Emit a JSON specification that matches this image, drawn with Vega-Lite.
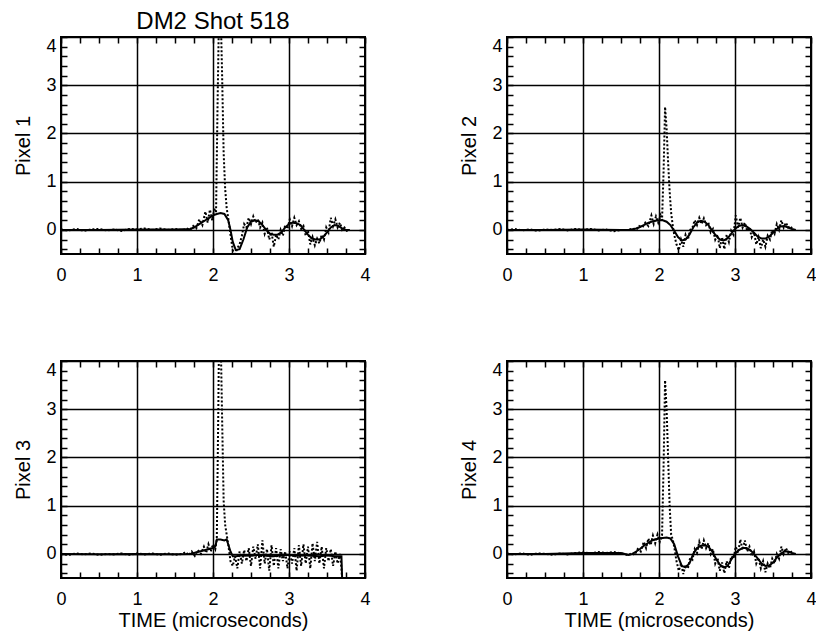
{
  "$schema": "https://vega.github.io/schema/vega-lite/v6.json",
  "padding": {"left": 12, "top": 9, "right": 5, "bottom": 5},
  "background": "white",
  "columns": 2,
  "spacing": {"row": 107, "column": 142},
  "bounds": "flush",
  "config": {
    "font": "Liberation Sans",
    "view": {"stroke": "black", "strokeWidth": 2},
    "axis": {
      "domain": false,
      "tickColor": "black",
      "tickSize": -6,
      "tickWidth": 1.5,
      "gridColor": "black",
      "gridWidth": 1.5,
      "labelFont": "Liberation Sans",
      "labelFontSize": 18,
      "labelColor": "black",
      "titleFont": "Liberation Sans",
      "titleFontSize": 20,
      "titleFontWeight": "normal",
      "titleColor": "black"
    },
    "axisLeft": {"labelPadding": 11, "titlePadding": 12, "labelFlush": true},
    "axisBottom": {"labelPadding": 18, "titlePadding": 2, "labelFlush": false},
    "axisTop": {"labels": false, "grid": false, "labelFlush": false},
    "axisRight": {"labels": false, "grid": false},
    "title": {"font": "Liberation Sans", "fontSize": 24, "fontWeight": "normal", "color": "black"}
  },
  "datasets": {
    "p1f": [{"t":0,"v":0},{"t":0.5,"v":0.0},{"t":1.0,"v":0.01},{"t":1.5,"v":0.01},{"t":1.7,"v":0.02},{"t":1.75,"v":0.05},{"t":1.8,"v":0.1},{"t":1.85,"v":0.15},{"t":1.9,"v":0.2},{"t":1.95,"v":0.25},{"t":2.0,"v":0.3},{"t":2.05,"v":0.33},{"t":2.1,"v":0.35},{"t":2.15,"v":0.33},{"t":2.2,"v":0.2},{"t":2.23,"v":0.0},{"t":2.26,"v":-0.25},{"t":2.3,"v":-0.42},{"t":2.35,"v":-0.4},{"t":2.4,"v":-0.2},{"t":2.45,"v":0.05},{"t":2.5,"v":0.17},{"t":2.55,"v":0.2},{"t":2.6,"v":0.18},{"t":2.65,"v":0.1},{"t":2.7,"v":0.0},{"t":2.75,"v":-0.08},{"t":2.8,"v":-0.1},{"t":2.85,"v":-0.1},{"t":2.9,"v":-0.05},{"t":2.95,"v":0.05},{"t":3.0,"v":0.12},{"t":3.05,"v":0.15},{"t":3.1,"v":0.14},{"t":3.15,"v":0.1},{"t":3.2,"v":0.0},{"t":3.25,"v":-0.1},{"t":3.3,"v":-0.18},{"t":3.35,"v":-0.2},{"t":3.4,"v":-0.2},{"t":3.45,"v":-0.15},{"t":3.5,"v":-0.05},{"t":3.55,"v":0.05},{"t":3.6,"v":0.1},{"t":3.65,"v":0.08},{"t":3.7,"v":0.03},{"t":3.75,"v":0.0},{"t":3.8,"v":0.0}],
    "p1d": [{"t":0,"v":0.01},{"t":0.1,"v":-0.01},{"t":0.2,"v":0.02},{"t":0.3,"v":-0.02},{"t":0.4,"v":0.01},{"t":0.5,"v":0.02},{"t":0.6,"v":-0.01},{"t":0.7,"v":0.01},{"t":0.8,"v":-0.02},{"t":0.9,"v":0.02},{"t":1.0,"v":0.01},{"t":1.1,"v":0.03},{"t":1.2,"v":0.0},{"t":1.3,"v":0.03},{"t":1.4,"v":0.0},{"t":1.5,"v":0.02},{"t":1.6,"v":-0.01},{"t":1.65,"v":0.03},{"t":1.7,"v":0.0},{"t":1.74,"v":0.08},{"t":1.78,"v":0.03},{"t":1.82,"v":0.22},{"t":1.86,"v":0.1},{"t":1.9,"v":0.38},{"t":1.93,"v":0.15},{"t":1.96,"v":0.42},{"t":1.99,"v":0.2},{"t":2.02,"v":0.45},{"t":2.04,"v":0.35},{"t":2.06,"v":2.6},{"t":2.08,"v":4.6},{"t":2.1,"v":4.6},{"t":2.12,"v":3.2},{"t":2.14,"v":1.6},{"t":2.16,"v":0.85},{"t":2.18,"v":0.45},{"t":2.2,"v":0.25},{"t":2.23,"v":-0.1},{"t":2.26,"v":-0.42},{"t":2.29,"v":-0.5},{"t":2.32,"v":-0.38},{"t":2.35,"v":-0.3},{"t":2.38,"v":-0.12},{"t":2.41,"v":0.12},{"t":2.44,"v":0.05},{"t":2.47,"v":0.25},{"t":2.5,"v":0.12},{"t":2.53,"v":0.28},{"t":2.56,"v":0.15},{"t":2.59,"v":0.22},{"t":2.62,"v":0.05},{"t":2.65,"v":0.15},{"t":2.68,"v":-0.08},{"t":2.71,"v":0.05},{"t":2.74,"v":-0.2},{"t":2.77,"v":-0.05},{"t":2.8,"v":-0.35},{"t":2.83,"v":-0.1},{"t":2.86,"v":-0.2},{"t":2.89,"v":0.0},{"t":2.92,"v":-0.12},{"t":2.95,"v":0.1},{"t":2.98,"v":0.02},{"t":3.01,"v":0.22},{"t":3.04,"v":0.08},{"t":3.07,"v":0.25},{"t":3.1,"v":0.1},{"t":3.13,"v":0.18},{"t":3.16,"v":0.02},{"t":3.19,"v":0.08},{"t":3.22,"v":-0.12},{"t":3.25,"v":-0.02},{"t":3.28,"v":-0.3},{"t":3.31,"v":-0.15},{"t":3.34,"v":-0.32},{"t":3.37,"v":-0.18},{"t":3.4,"v":-0.28},{"t":3.43,"v":-0.1},{"t":3.46,"v":-0.2},{"t":3.49,"v":0.05},{"t":3.52,"v":-0.05},{"t":3.55,"v":0.25},{"t":3.58,"v":0.08},{"t":3.61,"v":0.22},{"t":3.64,"v":0.05},{"t":3.67,"v":0.15},{"t":3.7,"v":0.0},{"t":3.73,"v":0.05},{"t":3.76,"v":-0.02},{"t":3.8,"v":0.0}],
    "p2f": [{"t":0,"v":0},{"t":0.5,"v":0.0},{"t":1.0,"v":0.01},{"t":1.5,"v":0.0},{"t":1.6,"v":0.0},{"t":1.7,"v":0.03},{"t":1.75,"v":0.06},{"t":1.8,"v":0.1},{"t":1.85,"v":0.14},{"t":1.9,"v":0.17},{"t":1.95,"v":0.19},{"t":2.0,"v":0.2},{"t":2.05,"v":0.2},{"t":2.1,"v":0.17},{"t":2.15,"v":0.1},{"t":2.2,"v":-0.02},{"t":2.25,"v":-0.15},{"t":2.3,"v":-0.22},{"t":2.35,"v":-0.2},{"t":2.4,"v":-0.1},{"t":2.45,"v":0.05},{"t":2.5,"v":0.15},{"t":2.55,"v":0.19},{"t":2.6,"v":0.17},{"t":2.65,"v":0.1},{"t":2.7,"v":-0.02},{"t":2.75,"v":-0.12},{"t":2.8,"v":-0.2},{"t":2.85,"v":-0.22},{"t":2.9,"v":-0.18},{"t":2.95,"v":-0.08},{"t":3.0,"v":0.02},{"t":3.05,"v":0.08},{"t":3.1,"v":0.1},{"t":3.15,"v":0.07},{"t":3.2,"v":0.02},{"t":3.25,"v":-0.06},{"t":3.3,"v":-0.14},{"t":3.35,"v":-0.18},{"t":3.4,"v":-0.18},{"t":3.45,"v":-0.14},{"t":3.5,"v":-0.06},{"t":3.55,"v":0.02},{"t":3.6,"v":0.07},{"t":3.65,"v":0.08},{"t":3.7,"v":0.05},{"t":3.75,"v":0.02},{"t":3.8,"v":0.0}],
    "p2d": [{"t":0,"v":0.0},{"t":0.1,"v":0.02},{"t":0.2,"v":-0.01},{"t":0.3,"v":0.01},{"t":0.4,"v":-0.02},{"t":0.5,"v":0.01},{"t":0.6,"v":0.0},{"t":0.7,"v":0.02},{"t":0.8,"v":-0.01},{"t":0.9,"v":0.02},{"t":1.0,"v":0.0},{"t":1.1,"v":0.02},{"t":1.2,"v":-0.01},{"t":1.3,"v":0.01},{"t":1.4,"v":-0.03},{"t":1.5,"v":0.0},{"t":1.6,"v":0.0},{"t":1.65,"v":0.03},{"t":1.7,"v":0.0},{"t":1.74,"v":0.08},{"t":1.78,"v":0.05},{"t":1.82,"v":0.15},{"t":1.86,"v":0.08},{"t":1.9,"v":0.3},{"t":1.93,"v":0.12},{"t":1.96,"v":0.28},{"t":1.99,"v":0.15},{"t":2.02,"v":0.3},{"t":2.04,"v":0.2},{"t":2.06,"v":1.2},{"t":2.08,"v":2.55},{"t":2.1,"v":2.1},{"t":2.12,"v":1.4},{"t":2.14,"v":0.8},{"t":2.16,"v":0.35},{"t":2.18,"v":0.1},{"t":2.2,"v":-0.1},{"t":2.23,"v":-0.3},{"t":2.26,"v":-0.42},{"t":2.29,"v":-0.2},{"t":2.32,"v":-0.35},{"t":2.35,"v":-0.1},{"t":2.38,"v":-0.2},{"t":2.41,"v":0.0},{"t":2.44,"v":0.05},{"t":2.47,"v":0.2},{"t":2.5,"v":0.1},{"t":2.53,"v":0.25},{"t":2.56,"v":0.12},{"t":2.59,"v":0.24},{"t":2.62,"v":0.1},{"t":2.65,"v":0.15},{"t":2.68,"v":-0.05},{"t":2.71,"v":0.02},{"t":2.74,"v":-0.2},{"t":2.77,"v":-0.1},{"t":2.8,"v":-0.38},{"t":2.83,"v":-0.15},{"t":2.86,"v":-0.4},{"t":2.89,"v":-0.1},{"t":2.92,"v":-0.25},{"t":2.95,"v":-0.02},{"t":2.98,"v":-0.1},{"t":3.01,"v":0.3},{"t":3.04,"v":0.05},{"t":3.07,"v":0.25},{"t":3.1,"v":0.05},{"t":3.13,"v":0.15},{"t":3.16,"v":-0.02},{"t":3.19,"v":0.05},{"t":3.22,"v":-0.15},{"t":3.25,"v":-0.05},{"t":3.28,"v":-0.3},{"t":3.31,"v":-0.15},{"t":3.34,"v":-0.38},{"t":3.37,"v":-0.2},{"t":3.4,"v":-0.35},{"t":3.43,"v":-0.12},{"t":3.46,"v":-0.2},{"t":3.49,"v":0.0},{"t":3.52,"v":-0.08},{"t":3.55,"v":0.12},{"t":3.58,"v":0.0},{"t":3.61,"v":0.2},{"t":3.64,"v":0.05},{"t":3.67,"v":0.15},{"t":3.7,"v":0.05},{"t":3.73,"v":0.08},{"t":3.76,"v":0.0},{"t":3.8,"v":0.0}],
    "p3f": [{"t":0,"v":0},{"t":0.5,"v":-0.01},{"t":1.0,"v":0.0},{"t":1.5,"v":-0.01},{"t":1.7,"v":0.0},{"t":1.75,"v":0.02},{"t":1.8,"v":0.04},{"t":1.85,"v":0.06},{"t":1.9,"v":0.08},{"t":1.95,"v":0.1},{"t":2.0,"v":0.12},{"t":2.03,"v":0.15},{"t":2.05,"v":0.3},{"t":2.1,"v":0.3},{"t":2.15,"v":0.28},{"t":2.18,"v":0.3},{"t":2.2,"v":0.2},{"t":2.23,"v":0.05},{"t":2.26,"v":-0.05},{"t":2.3,"v":-0.05},{"t":2.4,"v":-0.03},{"t":2.5,"v":-0.04},{"t":2.6,"v":-0.02},{"t":2.7,"v":-0.04},{"t":2.8,"v":-0.05},{"t":2.9,"v":-0.03},{"t":3.0,"v":-0.02},{"t":3.1,"v":-0.04},{"t":3.2,"v":-0.03},{"t":3.3,"v":-0.04},{"t":3.4,"v":-0.05},{"t":3.5,"v":-0.03},{"t":3.6,"v":-0.05},{"t":3.69,"v":-0.05},{"t":3.7,"v":-0.55}],
    "p3d": [{"t":0,"v":0.0},{"t":0.1,"v":-0.02},{"t":0.2,"v":0.01},{"t":0.3,"v":-0.01},{"t":0.4,"v":0.01},{"t":0.5,"v":-0.02},{"t":0.6,"v":0.0},{"t":0.7,"v":-0.01},{"t":0.8,"v":0.01},{"t":0.9,"v":-0.02},{"t":1.0,"v":0.01},{"t":1.1,"v":-0.01},{"t":1.2,"v":0.01},{"t":1.3,"v":-0.02},{"t":1.4,"v":0.01},{"t":1.5,"v":-0.02},{"t":1.6,"v":0.0},{"t":1.64,"v":0.04},{"t":1.68,"v":-0.03},{"t":1.72,"v":0.05},{"t":1.76,"v":-0.04},{"t":1.8,"v":0.08},{"t":1.84,"v":0.0},{"t":1.88,"v":0.15},{"t":1.91,"v":0.02},{"t":1.94,"v":0.2},{"t":1.97,"v":0.05},{"t":2.0,"v":0.2},{"t":2.03,"v":0.1},{"t":2.05,"v":0.3},{"t":2.07,"v":3.0},{"t":2.08,"v":4.6},{"t":2.1,"v":4.6},{"t":2.12,"v":2.8},{"t":2.14,"v":1.1},{"t":2.16,"v":0.6},{"t":2.18,"v":0.4},{"t":2.2,"v":0.2},{"t":2.23,"v":-0.15},{"t":2.26,"v":-0.25},{"t":2.29,"v":-0.05},{"t":2.32,"v":-0.3},{"t":2.35,"v":0.05},{"t":2.38,"v":-0.2},{"t":2.41,"v":0.08},{"t":2.44,"v":-0.15},{"t":2.47,"v":0.12},{"t":2.5,"v":-0.25},{"t":2.53,"v":0.15},{"t":2.56,"v":-0.1},{"t":2.59,"v":0.2},{"t":2.62,"v":-0.3},{"t":2.65,"v":0.28},{"t":2.68,"v":-0.2},{"t":2.71,"v":0.1},{"t":2.74,"v":-0.35},{"t":2.77,"v":0.18},{"t":2.8,"v":-0.25},{"t":2.83,"v":0.12},{"t":2.86,"v":-0.3},{"t":2.89,"v":0.1},{"t":2.92,"v":-0.15},{"t":2.95,"v":0.05},{"t":2.98,"v":-0.3},{"t":3.01,"v":0.05},{"t":3.04,"v":-0.2},{"t":3.07,"v":0.12},{"t":3.1,"v":-0.35},{"t":3.13,"v":0.18},{"t":3.16,"v":-0.25},{"t":3.19,"v":0.2},{"t":3.22,"v":-0.2},{"t":3.25,"v":0.15},{"t":3.28,"v":-0.3},{"t":3.31,"v":0.22},{"t":3.34,"v":-0.15},{"t":3.37,"v":0.25},{"t":3.4,"v":-0.2},{"t":3.43,"v":0.15},{"t":3.46,"v":-0.3},{"t":3.49,"v":0.12},{"t":3.52,"v":-0.15},{"t":3.55,"v":0.1},{"t":3.58,"v":-0.25},{"t":3.61,"v":0.05},{"t":3.64,"v":-0.2},{"t":3.67,"v":0.0},{"t":3.69,"v":-0.3},{"t":3.7,"v":-0.55}],
    "p4f": [{"t":0,"v":0},{"t":0.5,"v":0.0},{"t":1.0,"v":0.02},{"t":1.5,"v":0.02},{"t":1.6,"v":-0.02},{"t":1.65,"v":0.0},{"t":1.7,"v":0.05},{"t":1.75,"v":0.1},{"t":1.8,"v":0.17},{"t":1.85,"v":0.22},{"t":1.9,"v":0.27},{"t":1.95,"v":0.3},{"t":2.0,"v":0.32},{"t":2.05,"v":0.33},{"t":2.1,"v":0.34},{"t":2.15,"v":0.32},{"t":2.2,"v":0.2},{"t":2.25,"v":-0.05},{"t":2.3,"v":-0.25},{"t":2.35,"v":-0.28},{"t":2.4,"v":-0.2},{"t":2.45,"v":0.0},{"t":2.5,"v":0.12},{"t":2.55,"v":0.17},{"t":2.6,"v":0.18},{"t":2.65,"v":0.15},{"t":2.7,"v":0.05},{"t":2.75,"v":-0.1},{"t":2.8,"v":-0.22},{"t":2.85,"v":-0.28},{"t":2.9,"v":-0.25},{"t":2.95,"v":-0.12},{"t":3.0,"v":0.0},{"t":3.05,"v":0.08},{"t":3.1,"v":0.12},{"t":3.15,"v":0.12},{"t":3.2,"v":0.08},{"t":3.25,"v":0.0},{"t":3.3,"v":-0.1},{"t":3.35,"v":-0.2},{"t":3.4,"v":-0.25},{"t":3.45,"v":-0.24},{"t":3.5,"v":-0.18},{"t":3.55,"v":-0.08},{"t":3.6,"v":0.0},{"t":3.65,"v":0.05},{"t":3.7,"v":0.05},{"t":3.75,"v":0.02},{"t":3.8,"v":0.0}],
    "p4d": [{"t":0,"v":0.01},{"t":0.1,"v":-0.01},{"t":0.2,"v":0.01},{"t":0.3,"v":-0.02},{"t":0.4,"v":0.01},{"t":0.5,"v":0.0},{"t":0.6,"v":-0.02},{"t":0.7,"v":0.01},{"t":0.8,"v":-0.01},{"t":0.9,"v":0.02},{"t":1.0,"v":0.03},{"t":1.1,"v":0.01},{"t":1.2,"v":0.04},{"t":1.3,"v":0.02},{"t":1.4,"v":0.04},{"t":1.5,"v":0.01},{"t":1.6,"v":-0.03},{"t":1.64,"v":0.02},{"t":1.68,"v":-0.02},{"t":1.72,"v":0.1},{"t":1.76,"v":0.05},{"t":1.8,"v":0.25},{"t":1.83,"v":0.12},{"t":1.86,"v":0.32},{"t":1.89,"v":0.18},{"t":1.92,"v":0.38},{"t":1.95,"v":0.22},{"t":1.98,"v":0.4},{"t":2.01,"v":0.25},{"t":2.04,"v":0.38},{"t":2.06,"v":1.8},{"t":2.08,"v":3.6},{"t":2.1,"v":3.0},{"t":2.12,"v":2.0},{"t":2.14,"v":1.0},{"t":2.16,"v":0.4},{"t":2.18,"v":0.3},{"t":2.2,"v":0.15},{"t":2.23,"v":-0.15},{"t":2.26,"v":-0.35},{"t":2.29,"v":-0.2},{"t":2.32,"v":-0.42},{"t":2.35,"v":-0.22},{"t":2.38,"v":-0.3},{"t":2.41,"v":-0.08},{"t":2.44,"v":-0.12},{"t":2.47,"v":0.1},{"t":2.5,"v":0.02},{"t":2.53,"v":0.25},{"t":2.56,"v":0.1},{"t":2.59,"v":0.28},{"t":2.62,"v":0.12},{"t":2.65,"v":0.22},{"t":2.68,"v":0.0},{"t":2.71,"v":0.1},{"t":2.74,"v":-0.2},{"t":2.77,"v":-0.08},{"t":2.8,"v":-0.35},{"t":2.83,"v":-0.18},{"t":2.86,"v":-0.4},{"t":2.89,"v":-0.15},{"t":2.92,"v":-0.3},{"t":2.95,"v":-0.05},{"t":2.98,"v":-0.1},{"t":3.01,"v":0.15},{"t":3.04,"v":0.02},{"t":3.07,"v":0.3},{"t":3.1,"v":0.08},{"t":3.13,"v":0.28},{"t":3.16,"v":0.05},{"t":3.19,"v":0.15},{"t":3.22,"v":-0.05},{"t":3.25,"v":0.05},{"t":3.28,"v":-0.2},{"t":3.31,"v":-0.08},{"t":3.34,"v":-0.3},{"t":3.37,"v":-0.15},{"t":3.4,"v":-0.38},{"t":3.43,"v":-0.2},{"t":3.46,"v":-0.3},{"t":3.49,"v":-0.1},{"t":3.52,"v":-0.2},{"t":3.55,"v":0.0},{"t":3.58,"v":-0.1},{"t":3.61,"v":0.15},{"t":3.64,"v":0.0},{"t":3.67,"v":0.12},{"t":3.7,"v":0.02},{"t":3.73,"v":0.06},{"t":3.76,"v":0.0},{"t":3.8,"v":0.0}]
  },
  "concat": [
    {
      "width": 304, "height": 217,
      "title": {"text": "DM2 Shot 518", "anchor": "middle", "offset": -17, "baseline": "alphabetic"},
      "layer": [
        {"data": {"name": "p1f"}, "mark": {"type": "line", "color": "black", "strokeWidth": 2, "clip": true},
         "encoding": {
           "x": {"field": "t", "type": "quantitative", "scale": {"domain": [0, 4], "nice": false, "zero": false},
                 "axis": {"orient": "bottom", "title": null, "grid": true, "values": [0,0.25,0.5,0.75,1,1.25,1.5,1.75,2,2.25,2.5,2.75,3,3.25,3.5,3.75,4], "labelExpr": "abs(datum.value - round(datum.value)) < 0.001 ? toString(round(datum.value)) : ''", "gridOpacity": {"condition": {"test": "abs(datum.value - round(datum.value)) < 0.001", "value": 1}, "value": 0}}},
           "y": {"field": "v", "type": "quantitative", "scale": {"domain": [-0.5, 4], "nice": false, "zero": false},
                 "axis": {"orient": "left", "title": "Pixel 1", "grid": true, "values": [-0.4,-0.2,0,0.2,0.4,0.6,0.8,1,1.2,1.4,1.6,1.8,2,2.2,2.4,2.6,2.8,3,3.2,3.4,3.6,3.8,4], "labelExpr": "abs(datum.value - round(datum.value)) < 0.001 ? toString(round(datum.value)) : ''", "gridOpacity": {"condition": {"test": "abs(datum.value - round(datum.value)) < 0.001", "value": 1}, "value": 0}}}
         }},
        {"data": {"name": "p1d"}, "mark": {"type": "line", "color": "black", "strokeWidth": 2, "strokeDash": [2, 2], "clip": true},
         "encoding": {
           "x": {"field": "t", "type": "quantitative", "axis": {"orient": "top", "title": null, "labels": false, "grid": false, "values": [0,0.25,0.5,0.75,1,1.25,1.5,1.75,2,2.25,2.5,2.75,3,3.25,3.5,3.75,4]}},
           "y": {"field": "v", "type": "quantitative", "axis": {"orient": "right", "title": null, "labels": false, "grid": false, "values": [-0.4,-0.2,0,0.2,0.4,0.6,0.8,1,1.2,1.4,1.6,1.8,2,2.2,2.4,2.6,2.8,3,3.2,3.4,3.6,3.8,4]}}
         }}
      ],
      "resolve": {"axis": {"x": "independent", "y": "independent"}}
    },
    {
      "width": 304, "height": 217,
      "layer": [
        {"data": {"name": "p2f"}, "mark": {"type": "line", "color": "black", "strokeWidth": 2, "clip": true},
         "encoding": {
           "x": {"field": "t", "type": "quantitative", "scale": {"domain": [0, 4], "nice": false, "zero": false},
                 "axis": {"orient": "bottom", "title": null, "grid": true, "values": [0,0.25,0.5,0.75,1,1.25,1.5,1.75,2,2.25,2.5,2.75,3,3.25,3.5,3.75,4], "labelExpr": "abs(datum.value - round(datum.value)) < 0.001 ? toString(round(datum.value)) : ''", "gridOpacity": {"condition": {"test": "abs(datum.value - round(datum.value)) < 0.001", "value": 1}, "value": 0}}},
           "y": {"field": "v", "type": "quantitative", "scale": {"domain": [-0.5, 4], "nice": false, "zero": false},
                 "axis": {"orient": "left", "title": "Pixel 2", "grid": true, "values": [-0.4,-0.2,0,0.2,0.4,0.6,0.8,1,1.2,1.4,1.6,1.8,2,2.2,2.4,2.6,2.8,3,3.2,3.4,3.6,3.8,4], "labelExpr": "abs(datum.value - round(datum.value)) < 0.001 ? toString(round(datum.value)) : ''", "gridOpacity": {"condition": {"test": "abs(datum.value - round(datum.value)) < 0.001", "value": 1}, "value": 0}}}
         }},
        {"data": {"name": "p2d"}, "mark": {"type": "line", "color": "black", "strokeWidth": 2, "strokeDash": [2, 2], "clip": true},
         "encoding": {
           "x": {"field": "t", "type": "quantitative", "axis": {"orient": "top", "title": null, "labels": false, "grid": false, "values": [0,0.25,0.5,0.75,1,1.25,1.5,1.75,2,2.25,2.5,2.75,3,3.25,3.5,3.75,4]}},
           "y": {"field": "v", "type": "quantitative", "axis": {"orient": "right", "title": null, "labels": false, "grid": false, "values": [-0.4,-0.2,0,0.2,0.4,0.6,0.8,1,1.2,1.4,1.6,1.8,2,2.2,2.4,2.6,2.8,3,3.2,3.4,3.6,3.8,4]}}
         }}
      ],
      "resolve": {"axis": {"x": "independent", "y": "independent"}}
    },
    {
      "width": 304, "height": 217,
      "layer": [
        {"data": {"name": "p3f"}, "mark": {"type": "line", "color": "black", "strokeWidth": 2, "clip": true},
         "encoding": {
           "x": {"field": "t", "type": "quantitative", "scale": {"domain": [0, 4], "nice": false, "zero": false},
                 "axis": {"orient": "bottom", "title": "TIME (microseconds)", "grid": true, "values": [0,0.25,0.5,0.75,1,1.25,1.5,1.75,2,2.25,2.5,2.75,3,3.25,3.5,3.75,4], "labelExpr": "abs(datum.value - round(datum.value)) < 0.001 ? toString(round(datum.value)) : ''", "gridOpacity": {"condition": {"test": "abs(datum.value - round(datum.value)) < 0.001", "value": 1}, "value": 0}}},
           "y": {"field": "v", "type": "quantitative", "scale": {"domain": [-0.5, 4], "nice": false, "zero": false},
                 "axis": {"orient": "left", "title": "Pixel 3", "grid": true, "values": [-0.4,-0.2,0,0.2,0.4,0.6,0.8,1,1.2,1.4,1.6,1.8,2,2.2,2.4,2.6,2.8,3,3.2,3.4,3.6,3.8,4], "labelExpr": "abs(datum.value - round(datum.value)) < 0.001 ? toString(round(datum.value)) : ''", "gridOpacity": {"condition": {"test": "abs(datum.value - round(datum.value)) < 0.001", "value": 1}, "value": 0}}}
         }},
        {"data": {"name": "p3d"}, "mark": {"type": "line", "color": "black", "strokeWidth": 2, "strokeDash": [2, 2], "clip": true},
         "encoding": {
           "x": {"field": "t", "type": "quantitative", "axis": {"orient": "top", "title": null, "labels": false, "grid": false, "values": [0,0.25,0.5,0.75,1,1.25,1.5,1.75,2,2.25,2.5,2.75,3,3.25,3.5,3.75,4]}},
           "y": {"field": "v", "type": "quantitative", "axis": {"orient": "right", "title": null, "labels": false, "grid": false, "values": [-0.4,-0.2,0,0.2,0.4,0.6,0.8,1,1.2,1.4,1.6,1.8,2,2.2,2.4,2.6,2.8,3,3.2,3.4,3.6,3.8,4]}}
         }}
      ],
      "resolve": {"axis": {"x": "independent", "y": "independent"}}
    },
    {
      "width": 304, "height": 217,
      "layer": [
        {"data": {"name": "p4f"}, "mark": {"type": "line", "color": "black", "strokeWidth": 2, "clip": true},
         "encoding": {
           "x": {"field": "t", "type": "quantitative", "scale": {"domain": [0, 4], "nice": false, "zero": false},
                 "axis": {"orient": "bottom", "title": "TIME (microseconds)", "grid": true, "values": [0,0.25,0.5,0.75,1,1.25,1.5,1.75,2,2.25,2.5,2.75,3,3.25,3.5,3.75,4], "labelExpr": "abs(datum.value - round(datum.value)) < 0.001 ? toString(round(datum.value)) : ''", "gridOpacity": {"condition": {"test": "abs(datum.value - round(datum.value)) < 0.001", "value": 1}, "value": 0}}},
           "y": {"field": "v", "type": "quantitative", "scale": {"domain": [-0.5, 4], "nice": false, "zero": false},
                 "axis": {"orient": "left", "title": "Pixel 4", "grid": true, "values": [-0.4,-0.2,0,0.2,0.4,0.6,0.8,1,1.2,1.4,1.6,1.8,2,2.2,2.4,2.6,2.8,3,3.2,3.4,3.6,3.8,4], "labelExpr": "abs(datum.value - round(datum.value)) < 0.001 ? toString(round(datum.value)) : ''", "gridOpacity": {"condition": {"test": "abs(datum.value - round(datum.value)) < 0.001", "value": 1}, "value": 0}}}
         }},
        {"data": {"name": "p4d"}, "mark": {"type": "line", "color": "black", "strokeWidth": 2, "strokeDash": [2, 2], "clip": true},
         "encoding": {
           "x": {"field": "t", "type": "quantitative", "axis": {"orient": "top", "title": null, "labels": false, "grid": false, "values": [0,0.25,0.5,0.75,1,1.25,1.5,1.75,2,2.25,2.5,2.75,3,3.25,3.5,3.75,4]}},
           "y": {"field": "v", "type": "quantitative", "axis": {"orient": "right", "title": null, "labels": false, "grid": false, "values": [-0.4,-0.2,0,0.2,0.4,0.6,0.8,1,1.2,1.4,1.6,1.8,2,2.2,2.4,2.6,2.8,3,3.2,3.4,3.6,3.8,4]}}
         }}
      ],
      "resolve": {"axis": {"x": "independent", "y": "independent"}}
    }
  ]
}
